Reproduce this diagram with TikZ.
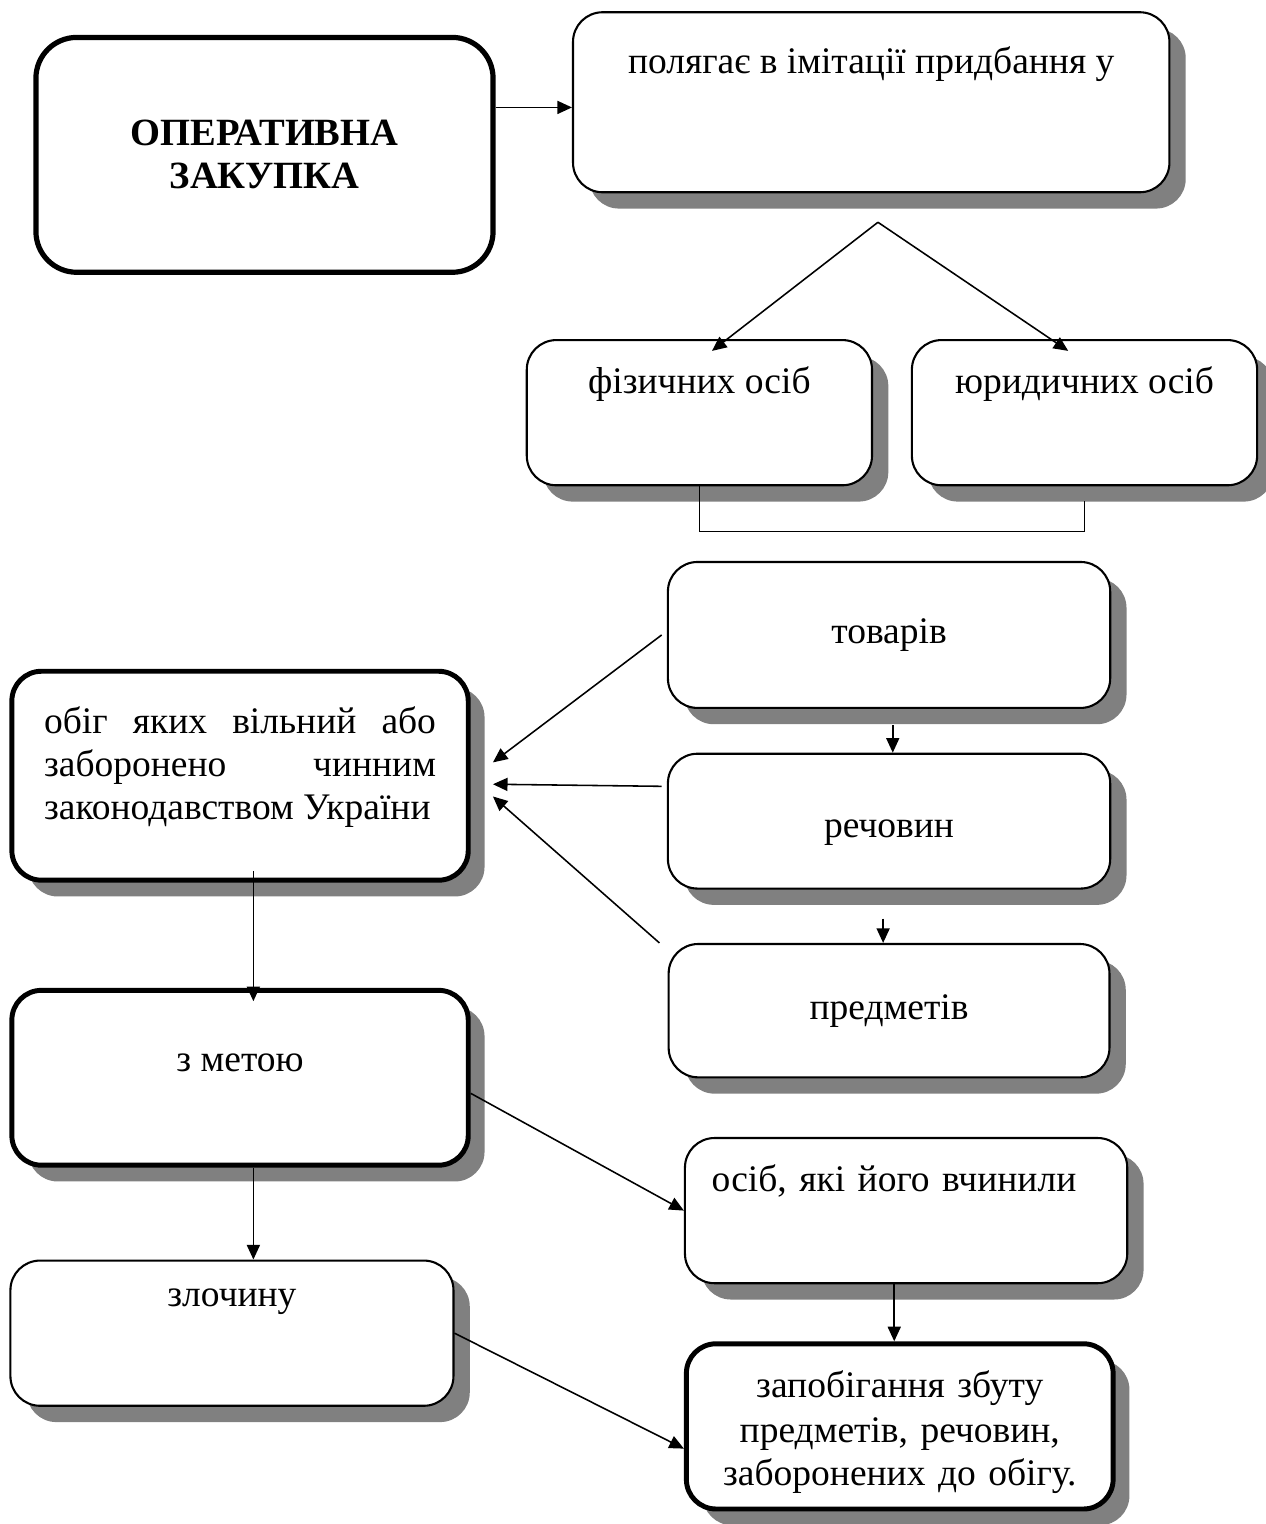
\documentclass[tikz,border=0pt]{standalone}
\usepackage{fontspec}
\setmainfont{Liberation Serif}
\usepackage{tikz}
\usetikzlibrary{shapes,arrows.meta,shadows,positioning}
\tikzstyle{block} = [rectangle, draw, line width=0.8pt, rounded corners=0.4cm, fill=white,
    drop shadow={shadow xshift=0.22cm, shadow yshift=-0.22cm, fill=gray, opacity=1},
    text centered]
\tikzstyle{heavy} = [block, line width=1.9pt]
\tikzstyle{title} = [rectangle, draw, line width=2pt, rounded corners=0.55cm,
    text width=5cm, align=center, font=\fontsize{14.8}{16.5}\selectfont\bfseries]
\tikzstyle{line} = [draw, line width=0.6pt, -{Triangle[length=5.6pt,width=5pt]}]

\begin{document}
\begin{tikzpicture}[font=\fontsize{14.4}{16.5}\selectfont]
    \useasboundingbox (0,0) rectangle (17.08,-20.57);
    % Place nodes
    \node [title, minimum width=6.17cm, minimum height=3.17cm] (zakupka) at (3.57,-2.09) {ОПЕРАТИВНА\\ ЗАКУПКА};
    \node [block, minimum width=8.05cm, minimum height=2.43cm, inner ysep=0pt,
        text height=0.83cm, text depth=1.60cm, right=1.03cm of zakupka, yshift=0.71cm] (imitation) {полягає в імітації придбання у};
    \node [block, minimum width=4.66cm, minimum height=1.96cm, inner ysep=0pt,
        text height=0.72cm, text depth=1.24cm] (fizychni) at (9.44,-5.57) {фізичних осіб};
    \node [block, minimum width=4.66cm, minimum height=1.96cm, inner ysep=0pt,
        text height=0.72cm, text depth=1.24cm, right=0.51cm of fizychni] (yurydychni) {юридичних осіб};
    \node [block, minimum width=5.97cm, minimum height=1.97cm] (tovary) at (12.00,-8.57) {товарів};
    \node [block, minimum width=5.97cm, minimum height=1.82cm, inner ysep=0pt,
        text height=1.13cm, text depth=0.69cm, below=0.59cm of tovary] (rechovyny) {речовин};
    \node [block, minimum width=5.95cm, minimum height=1.80cm, below=0.72cm of rechovyny] (predmety) {предметів};
    \node [heavy, minimum width=6.16cm, minimum height=2.82cm, text width=5.29cm, align=justify, inner ysep=0pt,
        text height=0.84cm, text depth=1.98cm] (obih) at (3.24,-10.47) {обіг яких вільний або\linebreak заборонено чинним\linebreak законодавством України};
    \node [heavy, minimum width=6.16cm, minimum height=2.36cm, inner ysep=0pt,
        text height=1.09cm, text depth=1.27cm, below=1.42cm of obih] (meta) {з метою};
    \node [block, minimum width=5.98cm, minimum height=1.96cm, inner ysep=0pt,
        text height=0.62cm, text depth=1.34cm, below=1.24cm of meta.south west, anchor=north west] (zlochyn) {злочину};
    \node [block, minimum width=5.97cm, minimum height=1.96cm, inner ysep=0pt, inner xsep=0.36cm,
        text width=5.25cm, align=left, text height=0.72cm, text depth=1.24cm] (osoby) at (12.23,-16.34) {осіб, які його вчинили};
    \node [heavy, minimum width=5.76cm, minimum height=2.23cm, inner ysep=0pt, text width=5.3cm, align=center,
        text height=0.72cm, text depth=1.51cm, below=0.77cm of osoby.south west, anchor=north west] (zapobihannia) {\baselineskip=17.4pt запобігання збуту\\ предметів, речовин,\\ заборонених до обігу.};
    \coordinate (fork) at (11.85,-3.00);
    % Draw edges
    \path [line] ([yshift=0.64cm]zakupka.east) -- ([yshift=0.64cm]zakupka.east -| imitation.west);
    \path [line] (fork) -- ([xshift=0.17cm,yshift=-0.16cm]fizychni.north);
    \path [line] (fork) -- ([xshift=-0.22cm,yshift=-0.16cm]yurydychni.north);
    \draw [line width=0.6pt] (fizychni.south) -- ++(0,-0.61) -| ([yshift=-0.2cm]yurydychni.south);
    \path [line] ([xshift=-0.07cm]tovary.west) -- ([xshift=0.3cm,yshift=0.18cm]obih.east);
    \path [line] ([xshift=-0.07cm,yshift=0.47cm]rechovyny.west) -- ([xshift=0.3cm,yshift=-0.115cm]obih.east);
    \path [line] ([xshift=-0.11cm]predmety.north west) -- ([xshift=0.3cm,yshift=-0.28cm]obih.east);
    \path [line] ([xshift=0.05cm,yshift=-0.22cm]tovary.south) -- ([xshift=0.05cm]rechovyny.north);
    \path [line] ([xshift=-0.08cm,yshift=-0.39cm]rechovyny.south) -- ([xshift=-0.08cm]predmety.north);
    \path [line] ([xshift=0.18cm,yshift=0.16cm]obih.south) -- ([xshift=0.18cm,yshift=-0.18cm]meta.north);
    \path [line] ([xshift=0.18cm]meta.south) -- ([xshift=0.18cm]meta.south |- zlochyn.north);
    \path [line] ([yshift=-0.21cm]meta.east) -- (osoby.west);
    \path [line] (zlochyn.east) -- ([yshift=-0.30cm]zapobihannia.west);
    \path [line] ([xshift=-0.16cm]osoby.south) -- ([xshift=-0.16cm]osoby.south |- zapobihannia.north);
\end{tikzpicture}
\end{document}
